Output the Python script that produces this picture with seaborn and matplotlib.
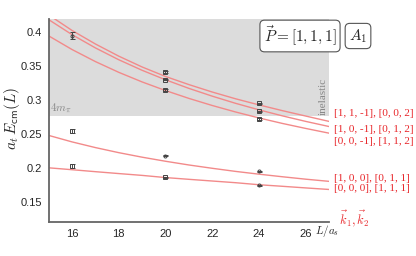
import numpy as np
import pandas as pd
import matplotlib
matplotlib.use("Agg")
import matplotlib.pyplot as plt
import seaborn as sns

# non-interacting levels at L/a_s = 15..27
L_grid = [15, 16, 17, 18, 19, 20, 21, 22, 23, 24, 25, 26, 27]
curve_labels = ['[1, 1, -1], [0, 0, 2]', '[1, 0, -1], [0, 1, 2]', '[0, 0, -1], [1, 1, 2]',
                '[1, 0, 0], [0, 1, 1]', '[0, 0, 0], [1, 1, 1]']
curve_110_002 = [0.426, 0.403, 0.383, 0.365, 0.349, 0.335, 0.323, 0.312, 0.302, 0.293, 0.2845, 0.2765, 0.2686]
curve_10m1_012 = [0.419, 0.3968, 0.3772, 0.3597, 0.3441, 0.3301, 0.3174, 0.3059, 0.2953, 0.2857, 0.2768, 0.2686, 0.2610]
curve_00m1_112 = [0.395, 0.3748, 0.3570, 0.3411, 0.3269, 0.3142, 0.3026, 0.2921, 0.2825, 0.2737, 0.2656, 0.2582, 0.2512]
curve_100_011 = [0.2479, 0.2383, 0.2299, 0.2224, 0.2157, 0.2097, 0.2042, 0.1993, 0.1947, 0.1906, 0.1868, 0.1832, 0.1800]
curve_000_111 = [0.2000, 0.1972, 0.1943, 0.1915, 0.1888, 0.1856, 0.1830, 0.1805, 0.1780, 0.1750, 0.1727, 0.1703, 0.1680]
label_y = [0.2804, 0.2572, 0.2390, 0.1841, 0.1693]

# lattice energies
pts_L = [16, 16, 16, 20, 20, 20, 20, 20, 24, 24, 24, 24, 24]
pts_E = [0.395, 0.254, 0.203, 0.3416, 0.3304, 0.3148, 0.2178, 0.1861, 0.2952, 0.2834, 0.2724, 0.1950, 0.1742]
pts_err = [0.0050, 0.0030, 0.0030, 0.0012, 0.0012, 0.0012, 0.0010, 0.0010, 0.0010, 0.0010, 0.0010, 0.0008, 0.0008]
pts_marker = ['o', 's', 's', 's', 's', 's', 'o', 's', 's', 's', 's', 'o', 'o']

threshold_4mpi = 0.276

curves = [curve_110_002, curve_10m1_012, curve_00m1_112, curve_100_011, curve_000_111]
rows = []
for lab, vals in zip(curve_labels, curves):
    for L, E in zip(L_grid, vals):
        rows.append({'L': L, 'E': E, 'level': lab})
df = pd.DataFrame(rows)

sns.set_style("white")
plt.rcParams['mathtext.fontset'] = 'cm'
plt.rcParams['font.family'] = ['Liberation Sans', 'DejaVu Sans']

fig = plt.figure(figsize=(4.16, 2.56), dpi=100)
ax = fig.add_axes([0.117, 0.133, 0.674, 0.793])

ax.axhspan(threshold_4mpi, 0.42, color='#dcdcdc', lw=0, zorder=0)

line_red = '#f28a8a'
sns.lineplot(data=df, x='L', y='E', units='level', estimator=None, color=line_red,
             lw=1.0, ax=ax, legend=False, zorder=2)

for L, E, err, m in zip(pts_L, pts_E, pts_err, pts_marker):
    ax.errorbar(L, E, yerr=err, fmt=m, ms=2.2, mfc='none', mec='#444444', mew=0.7,
                ecolor='#444444', elinewidth=0.7, capsize=1.8, capthick=0.7, zorder=3)

ax.set_xlim(15, 27)
ax.set_ylim(0.12, 0.42)
ax.set_xticks([16, 18, 20, 22, 24, 26])
ax.set_yticks([0.15, 0.2, 0.25, 0.3, 0.35, 0.4])
ax.set_yticklabels(['0.15', '0.2', '0.25', '0.3', '0.35', '0.4'])
ax.tick_params(labelsize=8, length=3, width=0.8, color='#555555', direction='out', pad=2)
for s in ['top', 'right']:
    ax.spines[s].set_visible(False)
for s in ['left', 'bottom']:
    ax.spines[s].set_color('#666666')
    ax.spines[s].set_linewidth(1.3)
ax.set_xlabel('')
ax.set_ylabel('')
fig.text(12 / 416, 1 - 118 / 256, r'$a_t\,E_{\mathsf{cm}}(L)$', fontsize=11,
         rotation=90, ha='center', va='center')

ax.text(15.05, threshold_4mpi + 0.002, r'$4m_\pi$', color='#888888', fontsize=8,
        ha='left', va='bottom')
ax.text(26.95, 0.278, 'inelastic', family='Liberation Serif', color='#888888',
        fontsize=8, rotation=90, ha='right', va='bottom')

red = '#e8262a'
for lab, y in zip(curve_labels, label_y):
    ax.text(27.2, y, lab, family='Liberation Serif', color=red, fontsize=8,
            ha='left', va='center', clip_on=False)

fig.text(315 / 416, 1 - 231 / 256, r'$L/a_s$', fontsize=8, ha='left', va='center')
fig.text(339 / 416, 1 - 219 / 256, r'$\vec{k}_1,\vec{k}_2$', color=red, fontsize=9,
         ha='left', va='center')

box = dict(boxstyle='round,pad=0.25,rounding_size=0.3', fc='white', ec='#555555', lw=0.8)
fig.text(300 / 416, 1 - 36 / 256, r'$\vec{P}=[1,1,1]$', fontsize=11, ha='center',
         va='center', bbox=box)
fig.text(358 / 416, 1 - 36 / 256, r'$A_1$', fontsize=11, ha='center', va='center', bbox=box)

fig.savefig('out.png', dpi=100)
